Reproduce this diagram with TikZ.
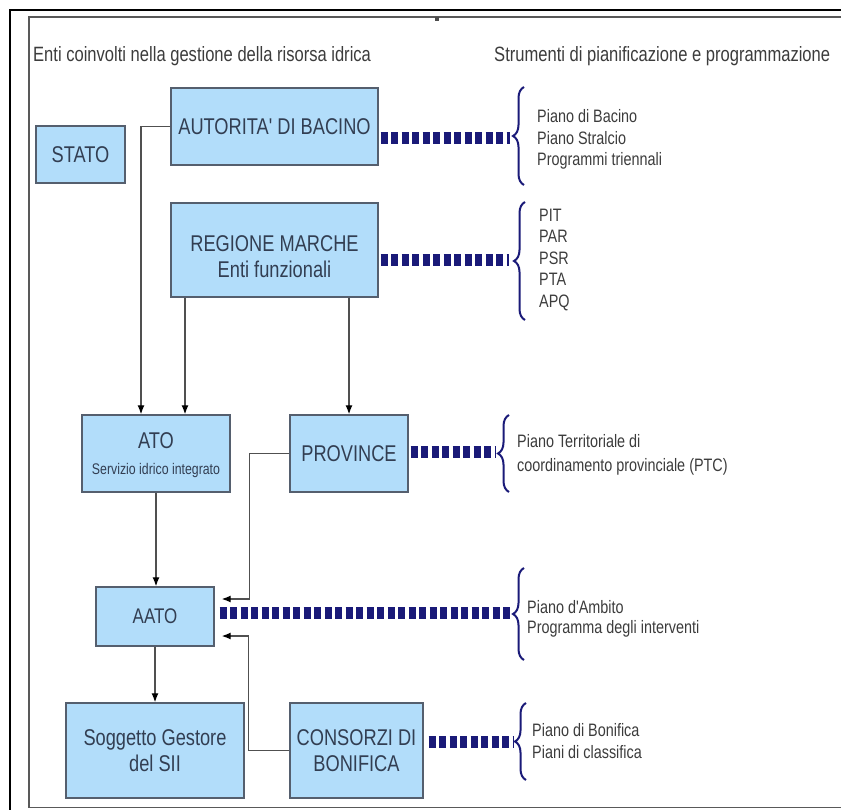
\documentclass[tikz,border=0pt]{standalone}
\usepackage{fontspec}
\setmainfont{Liberation Sans}[FakeStretch=0.8,Ligatures=TeXOff]
\usetikzlibrary{arrows.meta,decorations.pathreplacing}
\definecolor{boxfill}{RGB}{178,221,250}
\definecolor{boxline}{RGB}{85,95,110}
\definecolor{navy}{RGB}{26,26,120}
\definecolor{txtbox}{RGB}{50,62,82}
\definecolor{txtgray}{RGB}{60,60,60}
\definecolor{linegray}{RGB}{80,80,80}
\begin{document}
\begin{tikzpicture}[x=1pt,y=-1pt,
  box/.style={draw=boxline,fill=boxfill,line width=1.4pt,align=center,text=txtbox,
    font=\fontsize{22.8}{26}\selectfont,inner sep=0pt},
  arr/.style={line width=1.3pt,draw=linegray,-{Latex[length=9pt,width=7pt,color=black]}},
  dashlink/.style={draw=navy,line width=12pt,dash pattern=on 7pt off 3.5pt},
  bracestyle/.style={draw=navy,line width=2pt,decorate,decoration={brace,amplitude=11pt}},
  list/.style={anchor=west,align=left,inner sep=0pt,text=txtgray,font=\fontsize{18}{21.5}\selectfont},
  head/.style={anchor=west,inner sep=0pt,text=txtgray,font=\fontsize{20.7}{22}\selectfont}]
\useasboundingbox (0,0) rectangle (841,810);
% frame
\draw[line width=2.5pt,black] (10,812) -- (10,10) -- (845,10);
\draw[line width=1.3pt,draw=gray!70!black] (845,17) -- (29,17) -- (29,807.5) -- (845,807.5);
\fill[gray!60!black] (435,17) rectangle (439,21);
% headers
\node[head] (h1) at (33,56) {Enti coinvolti nella gestione della risorsa idrica};
\node[head] (h2) at (494,56) {Strumenti di pianificazione e programmazione};
% boxes
\node[box,minimum width=89pt,minimum height=57pt] (stato) at (80.5,154.5) {STATO};
\node[box,minimum width=207pt,minimum height=77pt] (aut) at (274.5,126.5) {AUTORITA' DI BACINO};
\node[box,minimum width=207pt,minimum height=94pt] (reg) at (274.5,250) {\rule{0pt}{28.5pt}REGIONE MARCHE\\Enti funzionali};
\node[box,minimum width=148pt,minimum height=77pt] (ato) at (156,453.5) {\rule{0pt}{19pt}ATO\\\fontsize{15.4}{23}\selectfont Servizio idrico integrato};
\node[box,minimum width=118pt,minimum height=77pt] (prov) at (349,453.5) {PROVINCE};
\node[box,minimum width=118pt,minimum height=59pt,font=\fontsize{21.2}{24}\selectfont] (aato) at (155,616.5) {AATO};
\node[box,minimum width=178pt,minimum height=95pt] (sogg) at (155,750.5) {Soggetto Gestore\\del SII};
\node[box,minimum width=133pt,minimum height=95pt] (cons) at (356.5,750.5) {CONSORZI DI\\BONIFICA};
% arrows
\draw[arr] (aut.west) -| ([xshift=-15pt]ato.north);
\draw[arr] ([xshift=29pt]ato.north |- reg.south) -- ([xshift=29pt]ato.north);
\draw[arr] (prov.north |- reg.south) -- (prov.north);
\draw[arr,shorten >=7pt] (prov.west) -- ++(-40,0) |- ([yshift=17.5pt]aato.east);
\draw[arr,shorten >=7pt] (cons.west) -- ++(-41,0) |- ([yshift=-19.5pt]aato.east);
\draw[arr] (ato.south) -- (ato.south |- aato.north);
\draw[arr] (aato.south) -- (sogg.north);
% brace tips
\coordinate (t1) at (510,138);
\coordinate (t2) at (509,260);
\coordinate (t3) at (496,452);
\coordinate (t4) at (512,613);
\coordinate (t5) at (514,742);
% dashed links
\draw[dashlink,shorten <=2pt] (aut.east |- t1) -- (t1);
\draw[dashlink,shorten <=2pt] (reg.east |- t2) -- (t2);
\draw[dashlink,shorten <=2pt] (prov.east |- t3) -- (t3);
\draw[dashlink,shorten <=5pt] (aato.east |- t4) -- (t4);
\draw[dashlink,shorten <=5pt] (cons.east |- t5) -- (t5);
% braces
\draw[bracestyle] (524,185) -- (524,87);
\draw[bracestyle] (525,320) -- (525,202);
\draw[bracestyle] (509,492) -- (509,415);
\draw[bracestyle] (524,660) -- (524,568);
\draw[bracestyle] (526,780) -- (526,703);
% lists
\node[list] (l1) at (537,139.5) {Piano di Bacino\\Piano Stralcio\\Programmi triennali};
\node[list] (l2) at (539,260) {PIT\\PAR\\PSR\\PTA\\APQ};
\node[list,font=\fontsize{18}{24}\selectfont] (l3) at (517,455) {Piano Territoriale di\\coordinamento provinciale (PTC)};
\node[list,font=\fontsize{18}{20.5}\selectfont] (l4) at (527,619) {Piano d'Ambito\\Programma degli interventi};
\node[list] (l5) at (532,741) {Piano di Bonifica\\Piani di classifica};
\end{tikzpicture}
\end{document}
